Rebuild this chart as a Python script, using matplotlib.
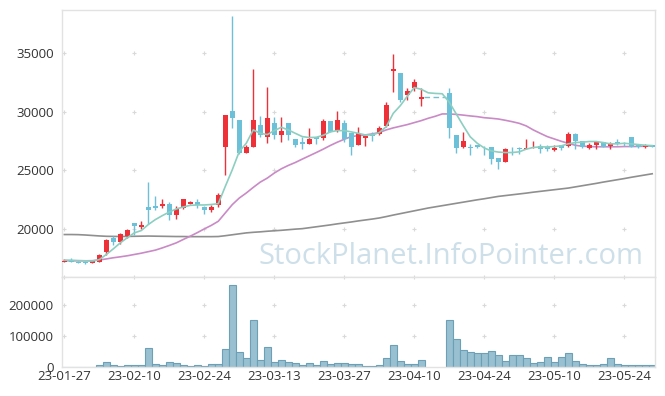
import numpy as np
import matplotlib
matplotlib.use("Agg")
import matplotlib.pyplot as plt

plt.rcParams['font.family'] = ['Open Sans', 'DejaVu Sans']

nan = np.nan
tick_labels = ["23-01-27", "23-02-10", "23-02-24", "23-03-13", "23-03-27",
               "23-04-10", "23-04-24", "23-05-10", "23-05-24"]

opens = [17200, 17300, 17200, 17180, 17130, 17170, 18020, 19200, 18870, 19430,
         20540, 20170, 21870, 21980, 21930, 22150, 21220, 21760, 22150, 22320,
         21870, 21590, 22010, 27020, 30050, 29290, 26510, 26970, 28830, 27810,
         29000, 28010, 29000, 27670, 27420, 27270, 27840, 27760, 29200, 28380,
         29030, 28150, 27190, 27790, 28100, 28100, 28780, 33450, 33280, 31400,
         32030, 31090, nan, nan, nan, 31600, 28010, 27015, 26990, 27120,
         27000, 26960, 26080, 25740, 26830, 26880, 26810, 26900, 27100, 27020,
         26735, 27130, 27050, 28090, 27470, 26900, 27190, 27420, 27100, 27420,
         27300, 27860, 27250, 26960, 27190]
highs = [17420, 17480, 17250, 17250, 17300, 17900, 19150, 19380, 19650, 20000,
         20540, 20680, 24020, 22770, 22550, 22270, 21930, 22550, 22410, 22550,
         21930, 22040, 23100, 29710, 38120, 29290, 27140, 33670, 29630, 32060,
         29510, 29570, 29000, 27670, 27870, 28600, 27840, 29340, 29200, 30030,
         29290, 28150, 28720, 27960, 28270, 28780, 30810, 34890, 33280, 32000,
         32740, 32000, nan, nan, nan, 31975, 28010, 28290, 27250, 27160,
         27080, 27020, 26080, 26880, 26990, 26990, 27640, 27470, 27270, 27130,
         27130, 27130, 28260, 28150, 27470, 27300, 27470, 27420, 27420, 27640,
         27420, 27860, 27250, 27250, 27190]
lows = [17150, 17150, 17080, 17050, 17080, 17150, 17740, 18650, 18700, 19200,
        19520, 20000, 20450, 21580, 21810, 20740, 20880, 21700, 22100, 21780,
        21300, 21470, 21870, 24620, 28640, 26400, 26450, 26970, 27810, 27300,
        27640, 27420, 27590, 26970, 26850, 27250, 27250, 27590, 28300, 28260,
        27450, 26290, 27130, 27100, 27530, 27980, 28720, 31640, 30840, 30950,
        31750, 30460, nan, nan, nan, 27730, 26455, 26880, 26270, 26880,
        26300, 25550, 25120, 25690, 26300, 26360, 26780, 26880, 26480, 26620,
        26620, 26700, 26970, 26850, 26900, 26850, 26850, 26960, 26780, 27160,
        27100, 26960, 26930, 26930, 26990]
closes = [17300, 17200, 17120, 17100, 17250, 17740, 19090, 18920, 19580, 19890,
          20230, 20340, 21590, 21810, 22100, 21220, 21700, 22550, 22320, 22040,
          21590, 21870, 22890, 29710, 29480, 26460, 26990, 29290, 28040, 29460,
          28040, 28350, 28040, 27190, 27250, 27670, 27670, 29230, 28300, 29290,
          27640, 27020, 28150, 27960, 27900, 28610, 30530, 33620, 30980, 31750,
          32540, 31260, nan, nan, nan, 28580, 26880, 27520, 26930, 26960,
          26950, 25950, 25740, 26820, 26780, 26830, 26870, 26950, 26800, 26800,
          26880, 26930, 28090, 27470, 27020, 27160, 27420, 27020, 27250, 27220,
          27220, 26960, 26960, 27190, 27020]
volumes = [800, 700, 600, 700, 900, 6500, 16300, 6500, 3300, 6500,
           6500, 6500, 62000, 9800, 6500, 16300, 13000, 6500, 3300, 6500,
           3300, 9800, 9800, 58700, 264000, 48900, 29300, 150000, 22800, 65200,
           16300, 22800, 16300, 13000, 6500, 13000, 6500, 19600, 9800, 13000,
           13000, 9800, 9800, 3300, 3300, 6500, 29300, 71700, 19600, 9800,
           9800, 22800, 0, 0, 0, 150000, 91300, 55400, 48900, 45700,
           45700, 52200, 39100, 19600, 39100, 39100, 29300, 13000, 16300, 32600,
           16300, 32600, 45700, 19600, 9800, 6500, 6500, 9800, 29300, 9800,
           6500, 6500, 6500, 6500, 6500]
ma5 = [17340, 17330, 17300, 17280, 17260, 17380, 17820, 18300, 18810, 19250,
       19660, 19860, 20370, 20790, 21130, 21440, 21700, 21870, 22010, 22040,
       22040, 22080, 22150, 23620, 25040, 26600, 27300, 28440, 28150, 28040,
       28380, 28660, 28440, 28150, 27870, 27785, 27810, 27980, 28270, 28380,
       28380, 28270, 28150, 28010, 28010, 28210, 28720, 29850, 30500, 31300,
       32050, 31900, 31600, 31550, 31520, 30800, 29800, 28800, 27850, 27300,
       26900, 26650, 26550, 26510, 26510, 26570, 26800, 26940, 26990, 26990,
       27020, 27080, 27250, 27360, 27390, 27450, 27450, 27360, 27250, 27250,
       27300, 27250, 27190, 27130, 27100]
ma20 = [17280, 17280, 17280, 17280, 17290, 17350, 17440, 17540, 17620, 17710,
        17820, 17930, 18060, 18190, 18380, 18590, 18810, 19100, 19380, 19680,
        20000, 20300, 20650, 21360, 22070, 22630, 23060, 23540, 23990, 24330,
        24760, 25120, 25410, 25660, 25950, 26230, 26510, 26800, 27110, 27390,
        27640, 27870, 27950, 28010, 28100, 28210, 28440, 28610, 28750, 28890,
        29060, 29230, 29430, 29600, 29800, 29800, 29760, 29700, 29630, 29570,
        29480, 29430, 29370, 29260, 29140, 29000, 28780, 28440, 28150, 27870,
        27670, 27470, 27300, 27130, 27050, 27020, 27000, 27000, 27000, 27000,
        27020, 27020, 27030, 27050, 27080]
ma120 = [19520, 19520, 19510, 19480, 19440, 19400, 19370, 19360, 19350, 19360,
         19370, 19380, 19390, 19380, 19370, 19360, 19350, 19350, 19340, 19340,
         19340, 19340, 19350, 19420, 19500, 19580, 19660, 19710, 19750, 19800,
         19840, 19880, 19930, 19980, 20020, 20100, 20180, 20260, 20340, 20430,
         20510, 20590, 20680, 20760, 20840, 20930, 21050, 21180, 21300, 21420,
         21540, 21660, 21780, 21880, 21980, 22080, 22180, 22280, 22380, 22480,
         22570, 22670, 22770, 22840, 22910, 22980, 23050, 23130, 23200, 23270,
         23340, 23410, 23480, 23580, 23680, 23780, 23880, 23990, 24090, 24190,
         24290, 24400, 24500, 24600, 24700]
price_ticks = [20000, 25000, 30000, 35000]
vol_ticks = [0, 100000, 200000]

UP = '#ee3138'
DOWN = '#6cc1d8'
GRID = '#d9d9d9'
SPINE = '#e2e2e2'
TXT = '#333333'

o = np.array(opens, float); h = np.array(highs, float)
l = np.array(lows, float); c = np.array(closes, float)
v = np.array(volumes, float)
n = len(o)
x = np.arange(n)
valid = ~np.isnan(o)

W, H = 665, 396
fig = plt.figure(figsize=(W / 100, H / 100), dpi=100, facecolor='white')
L = 62 / W
AW = (655 - 62) / W
ax = fig.add_axes([L, 1 - 277 / H, AW, (277 - 10) / H])
axv = fig.add_axes([L, 1 - 367 / H, AW, (367 - 277) / H])

xlim = (-0.33, 84.4)
for a in (ax, axv):
    a.set_xlim(*xlim)
    for s in a.spines.values():
        s.set_color(SPINE)
        s.set_linewidth(1.0)
    a.tick_params(length=0, colors=TXT, labelsize=9.5)
    a.set_facecolor('white')

ax.set_ylim(15900, 38660)
axv.set_ylim(0, 290000)

# grid crosses
xt = np.arange(0, n, 10)
for yy in price_ticks:
    ax.plot(xt, [yy] * len(xt), ls='none', marker='+', ms=3.5, mew=0.8,
            color=GRID, zorder=0)
for yy in vol_ticks[1:]:
    axv.plot(xt, [yy] * len(xt), ls='none', marker='+', ms=3.5, mew=0.8,
             color=GRID, zorder=0)
axv.plot(xt, [290000] * len(xt), ls='none', marker='+', ms=3.5, mew=0.8,
         color=GRID, zorder=0, clip_on=False)

# moving averages
ax.plot(x, ma120, color='#8f8f8f', lw=1.2, zorder=2)
ax.plot(x, ma20, color='#c98ac6', lw=1.2, zorder=2)
ax.plot(x, ma5, color='#8ccfc0', lw=1.2, zorder=4)

# candles
up = c >= o
cols = np.where(up, UP, DOWN)
xv = x[valid]
ax.vlines(xv, l[valid], h[valid], colors=cols[valid], lw=1.0, zorder=3)
body_bot = np.minimum(o, c)[valid]
body_h = np.maximum(np.abs(c - o)[valid], 60)
ax.bar(xv, body_h, bottom=body_bot, width=0.72, color=cols[valid],
       linewidth=0, zorder=3)

# halted days: dashed line at last close
i = 0
while i < n:
    if not valid[i]:
        j = i
        while j < n and not valid[j]:
            j += 1
        ax.plot([i - 1 + 0.45, j - 0.4], [c[i - 1], c[i - 1]], ls=(0, (4, 2.5)),
                color='#74bfcb', lw=1.0, zorder=3)
        i = j
    else:
        i += 1

# volume
axv.bar(x[v > 0], v[v > 0], width=1.0, color='#98c0d0', edgecolor='#6d9fb6',
        linewidth=0.8, zorder=2)

ax.set_yticks(price_ticks)
ax.set_yticklabels([str(t) for t in price_ticks])
ax.set_xticks(xt)
ax.set_xticklabels([])
axv.set_yticks(vol_ticks)
axv.set_yticklabels([str(t) for t in vol_ticks])
axv.set_xticks(xt)
axv.set_xticklabels(tick_labels)
ax.tick_params(axis='y', pad=6)
axv.tick_params(axis='y', pad=6)
axv.tick_params(axis='x', pad=2)

fig.text(643 / W, 1 - 264 / H, 'StockPlanet.InfoPointer.com', ha='right',
         va='baseline', fontsize=21, color='#cddfe9', zorder=1)

fig.savefig('out.png', dpi=100, facecolor='white')
